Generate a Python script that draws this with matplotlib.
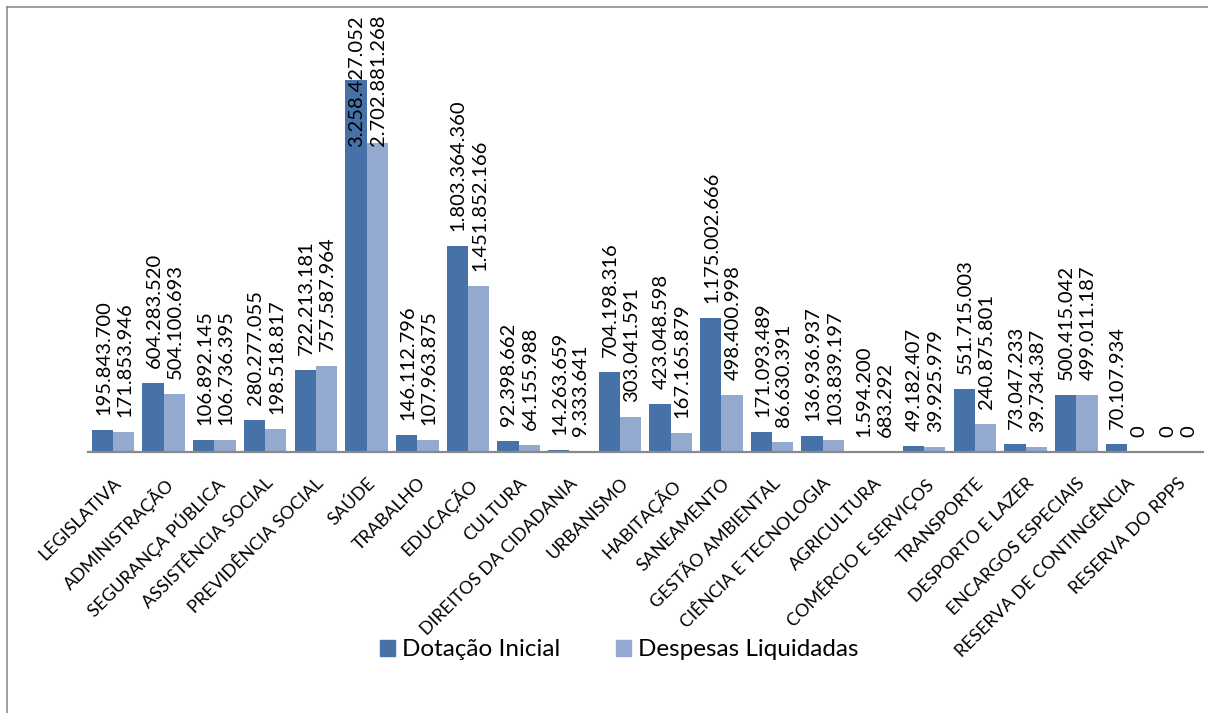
import matplotlib
matplotlib.use("Agg")
import matplotlib.pyplot as plt
from matplotlib.patches import Patch
from matplotlib.lines import Line2D
import numpy as np

categories = ["LEGISLATIVA", "ADMINISTRAÇÃO", "SEGURANÇA PÚBLICA", "ASSISTÊNCIA SOCIAL",
              "PREVIDÊNCIA SOCIAL", "SAÚDE", "TRABALHO", "EDUCAÇÃO", "CULTURA",
              "DIREITOS DA CIDADANIA", "URBANISMO", "HABITAÇÃO", "SANEAMENTO",
              "GESTÃO AMBIENTAL", "CIÊNCIA E TECNOLOGIA", "AGRICULTURA",
              "COMÉRCIO E SERVIÇOS", "TRANSPORTE", "DESPORTO E LAZER",
              "ENCARGOS ESPECIAIS", "RESERVA DE CONTINGÊNCIA", "RESERVA DO RPPS"]
dotacao_inicial = [195843700, 604283520, 106892145, 280277055, 722213181, 3258427052,
                   146112796, 1803364360, 92398662, 14263659, 704198316, 423048598,
                   1175002666, 171093489, 136936937, 1594200, 49182407, 551715003,
                   73047233, 500415042, 70107934, 0]
despesas_liquidadas = [171853946, 504100693, 106736395, 198518817, 757587964, 2702881268,
                       107963875, 1451852166, 64155988, 9333641, 303041591, 167165879,
                       498400998, 86630391, 103839197, 683292, 39925979, 240875801,
                       39734387, 499011187, 0, 0]
series_names = ["Dotação Inicial", "Despesas Liquidadas"]

C_DARK = "#4672A8"
C_LIGHT = "#93A9CF"
FONT = "Lato"

W, H = 1208, 713
fig = plt.figure(figsize=(W / 100, H / 100), dpi=100)
fig.patch.set_facecolor("white")

# outer chart border (top and left visible)
fig.add_artist(Line2D([7 / W, 1.01], [1 - 7 / H, 1 - 7 / H], color="#8c8c8c", lw=1.2,
                      transform=fig.transFigure))
fig.add_artist(Line2D([7 / W, 7 / W], [-0.01, 1 - 7 / H], color="#8c8c8c", lw=1.2,
                      transform=fig.transFigure))

ax = fig.add_axes([87.7 / W, 1 - 452 / H, (1203 - 87.7) / W, 399.6 / H])
x = np.arange(len(categories))
w = 0.42
ax.bar(x - w / 2, dotacao_inicial, width=w, color=C_DARK, label=series_names[0])
ax.bar(x + w / 2, despesas_liquidadas, width=w, color=C_LIGHT, label=series_names[1])
ax.set_xlim(-0.5, len(categories) - 0.5)
ax.set_ylim(0, 3.5e9)
for s in ["top", "right", "left"]:
    ax.spines[s].set_visible(False)
ax.spines["bottom"].set_color("#898989")
ax.spines["bottom"].set_linewidth(1.6)
ax.set_xticks([])
ax.set_yticks([])
ax.patch.set_alpha(0)


def fmt(v):
    return f"{v:,}".replace(",", ".")


labels = []
for xs, vals in [(x - w / 2, dotacao_inicial), (x + w / 2, despesas_liquidadas)]:
    for xi, v in zip(xs, vals):
        t = ax.annotate(fmt(v), xy=(xi, v), xytext=(1, 15), textcoords="offset pixels",
                        rotation=90, ha="center", va="bottom", fontsize=14.5,
                        family=FONT, color="black", annotation_clip=False)
        labels.append(t)

for i, c in enumerate(categories):
    ax.annotate(c, xy=(i, 0), xytext=(0, -23), textcoords="offset pixels",
                rotation=45, ha="right", va="top", rotation_mode="anchor",
                fontsize=12.9, family=FONT, color="black", annotation_clip=False)

handles = [Patch(color=C_DARK), Patch(color=C_LIGHT)]
fig.legend(handles, series_names, loc="center", bbox_to_anchor=(619 / W, 1 - 650 / H),
           ncol=2, frameon=False, handlelength=0.62, handleheight=0.62,
           handletextpad=0.28, columnspacing=2.3, prop={"family": FONT, "size": 17.5})

fig.canvas.draw()
r = fig.canvas.get_renderer()
limit = H - 15
for t in labels:
    bb = t.get_window_extent(r)
    if bb.y1 > limit:
        ox, oy = t.xyann
        t.xyann = (ox, oy - (bb.y1 - limit))

fig.savefig("out.png", dpi=100, facecolor="white")
